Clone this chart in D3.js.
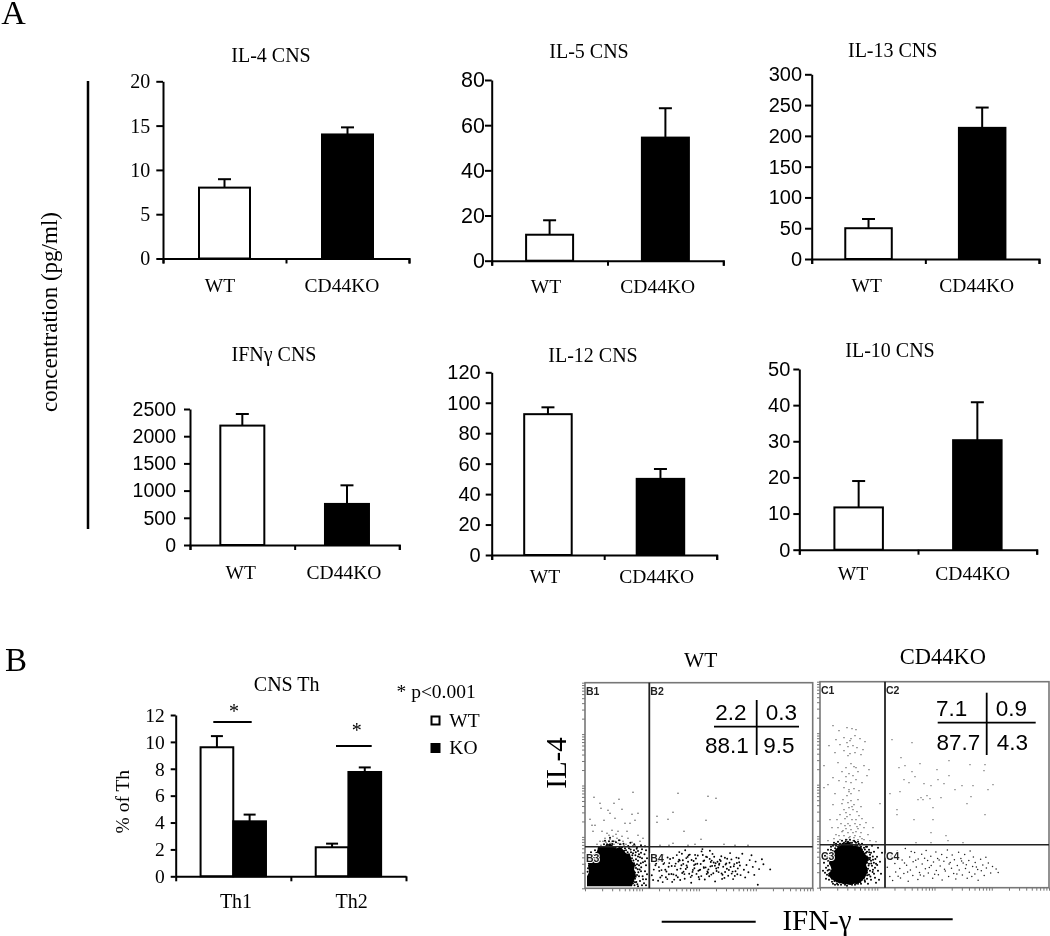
<!DOCTYPE html>
<html><head><meta charset="utf-8">
<script src="https://cdnjs.cloudflare.com/ajax/libs/d3/7.8.5/d3.min.js"></script>
<style>html,body{margin:0;padding:0;background:#fff}svg{display:block;filter:blur(.4px)}text{fill:#000}</style>
</head><body><svg id="c" width="1050" height="936"></svg>
<script>
// ---------- data ----------
const categories = ["WT","CD44KO"];
const panelTitles = ["IL-4 CNS","IL-5 CNS","IL-13 CNS","IFNγ CNS","IL-12 CNS","IL-10 CNS"];
const wtValues = [8,11.5,50,2195,92.5,11.7];
const koValues = [14,54.5,213,755,50,30.3];
const wtErrorTops = [8.95,17.9,65,2408,97,19];
const koErrorTops = [14.8,67.5,246,1097,56.5,40.8];
const panelTicks = [[0,5,10,15,20],[0,20,40,60,80],[0,50,100,150,200,250,300],[0,500,1000,1500,2000,2500],[0,20,40,60,80,100,120],[0,10,20,30,40,50]];

const thCategories = ["Th1","Th2"];
const thWt = [9.6,2.16];
const thKo = [4.09,7.76];
const thWtErr = [10.43,2.43];
const thKoErr = [4.59,8.1];
const thTicks = [0,2,4,6,8,10,12];

const wtTable = ["2.2","0.3","88.1","9.5"];
const koTable = ["7.1","0.9","87.7","4.3"];

// flow cytometry events: [IFN-γ channel, IL-4 channel]
const wtCore = [[2,2],[12,2],[24,2],[36,2],[47,2],[49,8],[51,13],[49,18],[50,24],[47,27],[45,34],[41,35],[36,41],[31,40],[25,45],[19,42],[13,42],[12,35],[8,34],[5,28],[3,23],[4,16],[2,12]];
const wtUpperLeft = [[9,91],[15,85],[16,80],[29,85],[34,89],[48,96],[23,78],[25,75],[37,79],[47,74],[53,75],[5,69],[19,68],[10,63],[7,63],[30,70],[40,65],[45,65],[50,68],[17,57],[8,57],[27,58],[33,57],[42,57],[53,53],[55,47],[15,47],[20,50],[32,50],[37,52],[25,49],[30,47],[43,50],[28,52],[22,55],[35,48],[12,44],[47,46],[38,47],[18,47],[27,47],[41,44],[50,43],[58,50],[24,53],[31,54],[26,45],[33,45],[21,46],[36,44],[29,44],[23,43],[39,43],[16,43]];
const wtUpperRight = [[93,95],[123,92],[131,90],[88,76],[72,72],[72,66],[83,69],[121,68],[99,57],[116,49],[75,43],[88,45],[103,43],[110,44],[150,43],[163,43],[139,44],[84,43]];
const wtHalo = [[48,5],[50,9.5],[52.4,4],[55,7.2],[57.6,12],[49,14],[53.3,16],[59,5],[61,9],[47.6,18],[51,20.4],[56.2,21],[60,17],[62,14],[49,25],[53,27.6],[58,26],[61,23],[47,30],[50.4,33],[55,31],[59.5,34],[62,30],[46,36],[49,38],[53,37.4],[57,39],[61,38],[44,40],[48,42],[52,41],[56,43],[60,42],[40,40],[35,44],[31,46],[22,44],[15,41],[10,38],[6,36],[3,34],[4,30],[50.7,11.6],[54,12],[58,9],[48,22],[52,24],[56,17],[51,29],[54,34],[48,35],[57,30],[60,27],[50,6],[53,2],[57,3],[61,3],[47,8],[49,17],[46,27],[44,34],[41,38],[37,41],[28,47],[24,47],[19,44],[46.5,12.5],[47.2,15.5],[48.6,7],[49.5,3],[51.3,6.3],[46.8,20],[45.7,24.5],[44.3,29],[42.6,36],[39.1,37.5],[35.8,36.8],[34.4,41],[30.6,41],[27.3,44.2],[22.5,41.5],[18,41],[13,37],[11.4,35.6],[8.5,30.5],[6.2,28],[3.8,25],[3,20],[2.6,16.5],[50,15.7],[52,13.2],[54.6,18.8],[50.2,22.8],[52.7,19],[48.4,27.8],[47.3,33],[50.8,36],[45.6,38.8],[43.2,42.4],[38.5,44.6],[55.8,25],[54,23],[53,31.7],[56,35.5],[51.7,39.6],[49.2,44],[45.4,45.6],[34,48],[20,47.5],[25,50.5]];
const wtLowerRight = [[70.4,23],[66.8,13],[73.1,7.5],[69.2,31],[76.5,18.2],[72.7,27.4],[80.9,11],[78.2,33.5],[83.6,21.5],[75.3,10.8],[87.2,6.4],[85.1,29.3],[81.4,16.8],[90.7,24.7],[88.4,13.9],[94.3,36.2],[92.1,18.6],[97.8,28.1],[95.2,8.3],[101.6,22.9],[99.4,14.2],[104.8,33.7],[103.1,26.5],[107.5,16.4],[106.2,5.6],[110.9,29.8],[109.4,20.1],[113.7,11.3],[112.3,24.6],[116.6,36.9],[115.2,18.7],[119.8,8.8],[118.3,27.2],[122.9,15.5],[121.1,31.6],[125.4,21.9],[124.2,12.1],[128.7,25.8],[127.5,34.4],[131.6,17.3],[130.1,6.9],[134.8,28.6],[133.2,20.7],[137.5,13.6],[136.3,32.1],[140.6,23.8],[139.4,10.4],[143.9,18.3],[142.2,29.5],[146.7,14.7],[145.1,35.2],[149.3,24.2],[148.1,9.2],[152.8,19.9],[151.4,30.7],[155.6,13.2],[154.2,26.1],[158.9,18.6],[157.3,34.6],[161.5,23.3],[160.2,10.9],[164.7,28.2],[163.4,16.1],[167.8,21.4],[166.5,33.1],[170.6,26.7],[169.3,13.4],[174.1,19.2],[172.8,3.6],[176.9,29.1],[178.4,24.1],[185.2,18.9],[93.4,26.8],[94.7,27.9],[97.2,15.3],[98.5,16.6],[101.3,30.2],[102.6,31.4],[105.7,11.2],[106.9,12.7],[109.1,23.2],[110.4,24.1],[113.4,17.6],[114.6,18.2],[117.8,33.3],[118.9,20.4],[121.7,14.3],[122.4,16.8],[125.8,26.3],[126.7,27.7],[129.2,31.5],[129.9,22.6],[133.6,16.2],[134.3,24.7],[137.1,9.4],[138.2,21.5],[141.3,24.9],[141.9,19.6],[145.6,21.3],[146.4,28.9],[149.8,12.4],[150.5,17.1],[153.7,30.1],[154.9,22.8],[91.2,12.8],[92.8,11.1],[95.6,19.7],[96.4,23.1],[99.7,9.6],[100.8,19.3],[103.6,33.1],[104.2,14.6],[107.9,18.4],[108.6,27.3],[111.5,14.4],[112.8,32.8],[115.7,24.3],[116.3,12.2],[119.2,27.8],[120.6,20.9],[123.4,18.9],[124.7,29.4],[127.1,22.4],[128.3,15.1],[131.2,19.8],[132.5,26.6],[135.7,27.3],[136.6,14.9],[139.9,30.6],[140.1,16.3],[143.2,12.6],[144.5,25.5],[147.6,16.7],[148.8,22.1],[151.9,25.3],[152.3,14.1],[80.3,18.6],[79.1,25.4],[84.2,25.2],[82.6,30.8],[88.1,30.4],[86.7,22.3],[78.4,24.2],[74.3,17.4],[71.2,24.8],[68.1,8.3],[82.3,9.2],[76.9,12.7],[86.4,14.3],[89.9,22.2],[94.1,28.7],[98.3,24.4],[102.2,21.1],[106.6,28.3],[110.1,33.4],[114.3,9.1],[118.7,21.2],[122.1,31.2],[126.3,13.7],[130.6,25.1],[134.1,23.6],[77.7,6.2],[83.9,14.1],[73.9,21.2],[68.8,18.7],[91.8,33.2],[89.2,8.7],[96.9,34.5],[100.2,38.1],[117.4,39.2],[124.9,37.6]];

const koCore = [[11,9],[18,5],[29,3],[40,5],[45,10],[48,17],[46,23],[49,29],[44,35],[41,41],[34,42],[28,46],[21,43],[16,39],[11,33],[9,25],[12,18],[8,14]];
const koUpperLeft = [[13,162],[19,157],[27,160],[32,159],[36,158],[16,148],[24,150],[31,149],[35,152],[40,149],[45,146],[9,142],[20,143],[28,141],[33,142],[37,140],[43,138],[15,135],[24,137],[30,134],[35,135],[41,133],[4,122],[18,125],[26,120],[31,124],[36,120],[44,122],[49,118],[22,116],[29,114],[33,112],[38,116],[47,112],[13,110],[19,107],[26,106],[31,105],[36,108],[42,105],[4,100],[8,103],[24,100],[29,98],[34,99],[39,97],[15,94],[27,92],[31,94],[38,88],[22,84],[28,85],[31,87],[13,83],[34,83],[41,81],[60,84],[29,80],[24,78],[33,78],[37,76],[26,75],[30,73],[20,73],[39,72],[10,68],[17,68],[25,69],[32,68],[36,68],[42,69],[21,64],[28,64],[30,62],[35,64],[40,63],[46,65],[12,60],[18,60],[26,59],[31,58],[38,59],[44,60],[53,60],[22,56],[28,55],[33,55],[36,56],[41,55],[16,53],[24,52],[30,51],[35,52],[40,51],[48,53],[14,49],[20,48],[27,48],[33,47],[38,48],[44,48],[50,47],[8,47],[56,46],[25,62],[27,71],[23,88],[32,81],[29,96],[26,111],[34,121],[27,145],[30,147],[28,132],[23,57],[37,61],[29,50],[34,50],[19,52],[42,49]];
const koUpperRight = [[72,148],[92,145],[81,130],[100,124],[129,127],[85,122],[79,120],[117,118],[150,123],[165,123],[164,117],[92,116],[95,111],[118,108],[129,112],[84,108],[89,105],[104,104],[111,102],[124,104],[142,102],[153,102],[173,103],[135,98],[168,98],[151,91],[80,96],[70,94],[101,90],[107,92],[98,88],[103,88],[110,89],[121,90],[147,84],[77,78],[113,80],[165,73],[113,68],[77,73],[94,68],[111,55],[126,52],[96,45],[111,45],[128,47],[143,45]];
const koHalo = [[6,20],[7,13],[8,27],[9,8],[10,33],[9,18],[11,38],[10,24],[12,6],[13,42],[12,14],[14,45],[13,4],[15,3],[16,42],[18,46],[20,44],[22,47],[24,45],[26,48],[28,46],[30,48],[32,45],[34,47],[36,45],[38,46],[40,43],[42,44],[44,40],[46,41],[47,36],[49,38],[48,30],[50,33],[51,27],[47,25],[52,22],[48,19],[53,18],[49,13],[54,14],[47,9],[51,8],[55,10],[45,6],[48,4],[41,4],[35,3],[27,2],[21,3],[17,4],[56,24],[57,31],[58,17],[54,36],[59,8],[56,5],[60,26],[61,14],[52,42],[58,40],[62,35],[4,25],[3,17],[5,32],[8,38],[45,15],[46,28],[43,36],[37,42],[23,44],[15,36],[11,28],[12,20],[15,8],[42,8],[44,10],[47,15],[49,24],[50,30],[46,35],[41,41],[30,45],[18,41],[13,34],[10,28],[8,22],[9,12],[12,9],[18,3],[25,3],[32,3],[38,4],[50,17],[53,28],[55,20],[51,35],[47,41],[35,46],[28,44],[16,44],[11,41],[7,31],[5,15],[6,9],[13.4,28.7],[11.2,17.4],[14.3,13.2],[16.5,6.3],[10.6,11.3],[7.7,17.2],[9.4,29.6],[12.8,36.7],[15.1,39.4],[19.2,42.7],[22.4,43.6],[25.7,46.2],[31.4,43.2],[35.1,42.8],[38.7,43.9],[41.9,38.2],[44.6,34.1],[46.9,31.2],[47.8,27.6],[48.6,22.1],[46.2,19.6],[47.1,12.4],[44.7,7.4],[40.3,5.7],[36.1,4.3],[30.2,3.6],[23.4,4.4],[19.6,5.2],[14.4,6.6],[50.4,11.3],[52.6,15.8],[51.2,24.3],[49.7,28.4],[52.8,31.1],[49.1,35.4],[44.9,38.2],[55.4,28.7],[53.9,24.9],[57.2,22.6]];
const koLowerRight = [[67.3,20.4],[69.8,11.2],[71.4,31.6],[72.6,7.3],[74.9,24.2],[75.7,15.8],[77.2,36.4],[79.8,19.3],[80.5,9.6],[82.1,27.7],[83.9,14.2],[85.3,39.1],[86.6,22.5],[88.2,6.4],[89.7,30.8],[90.4,17.6],[92.8,12.3],[93.1,25.9],[94.6,35.2],[96.3,20.7],[97.9,8.2],[98.2,28.6],[99.5,15.1],[101.7,33.4],[102.2,23.6],[103.8,11.7],[105.4,18.9],[106.1,37.3],[107.6,27.2],[108.3,14.8],[110.8,31.5],[111.2,22.1],[112.7,9.4],[113.5,25.7],[115.9,35.6],[116.3,17.2],[117.6,29.3],[118.4,12.9],[120.2,21.8],[121.7,33.1],[122.1,7.7],[123.9,26.4],[125.3,16.6],[126.8,30.2],[127.4,37.8],[128.6,11.3],[129.1,23.7],[131.5,19.4],[132.2,32.6],[133.7,14.3],[134.4,27.9],[135.8,8.6],[137.3,22.2],[138.6,35.4],[139.2,17.7],[140.9,29.1],[142.4,12.8],[143.1,24.6],[144.7,33.3],[145.5,19.2],[147.2,9.5],[148.8,27.3],[149.3,15.4],[150.1,36.7],[152.6,21.3],[153.4,30.8],[154.9,13.6],[155.2,25.2],[157.7,18.3],[158.1,7.4],[160.6,28.5],[161.3,16.9],[162.8,22.7],[164.2,12.1],[165.9,30.4],[166.4,19.6],[168.3,24.8],[170.7,14.6],[172.5,21.2],[176.1,18.8],[178.2,15.3],[104.6,29.5],[109.3,20.2],[114.7,13.5],[119.1,27.6],[124.5,18.4],[130.2,25.3],[136.9,13.7],[141.6,26.8],[146.3,22.9],[151.8,11.2],[156.4,20.6],[95.7,27.4],[100.3,12.6],[91.2,36.1],[87.6,15.8],[84.5,24.7],[78.1,11.4]];

// ---------- layout ----------
const panelBoxes = [
 {x0:163,x1:409,y0:258.5,y1:81.3,barW:51,tick:"'Liberation Serif'",fs:20,titleX:271,titleY:62,labY:292,labX:[220,342],tl:6.7,pad:6},
 {x0:491.7,x1:723.3,y0:260.7,y1:80,barW:47,tick:"'Liberation Sans'",fs:21.5,titleX:589,titleY:58,labY:293,labX:[546,657.7],tl:6.7,pad:0},
 {x0:811.7,x1:1039,y0:259,y1:74.3,barW:46.5,tick:"'Liberation Sans'",fs:20,titleX:892.7,titleY:56.7,labY:292,labX:[866.7,976.7],tl:6.7,pad:3},
 {x0:190,x1:399.3,y0:545,y1:409,barW:44,tick:"'Liberation Sans'",fs:19.5,titleX:274,titleY:361,labY:579,labX:[240.7,344],tl:6,pad:8},
 {x0:491.7,x1:716.7,y0:555,y1:372.3,barW:47.5,tick:"'Liberation Sans'",fs:20,titleX:593,titleY:362,labY:583,labX:[545,656.7],tl:6,pad:5},
 {x0:799.3,x1:1036.7,y0:549.7,y1:369,barW:48.5,tick:"'Liberation Sans'",fs:20,titleX:890,titleY:357,labY:580,labX:[853,972.7],tl:6,pad:3}
];
const serif = "'Liberation Serif','Times New Roman',serif";
const sans = "'Liberation Sans',Arial,sans-serif";
const svg = d3.select("#c");

function txt(x,y,s,size,opt={}){
  return svg.append("text").attr("x",x).attr("y",y).text(s)
    .attr("font-family",opt.font||serif).attr("font-size",size)
    .attr("text-anchor",opt.anchor||"middle");
}
function line(x1,y1,x2,y2,w=2,c="#000",g=svg){
  return g.append("line").attr("x1",x1).attr("y1",y1).attr("x2",x2).attr("y2",y2)
    .attr("stroke",c).attr("stroke-width",w);
}
function styleAxis(g,font,fs){
  g.selectAll("path").attr("stroke","#000").attr("stroke-width",2);
  g.selectAll("line").attr("stroke","#000").attr("stroke-width",2);
  g.selectAll("text").attr("font-family",font).attr("font-size",fs).attr("fill","#000");
}
function drawErr(x,top,base,cap){
  line(x,base,x,top);
  line(x-cap/2,top,x+cap/2,top);
}

// ---------- panel A ----------
txt(13.5,24,"A",34);
line(88,81,88,529,2.5);
svg.append("text").attr("transform","translate(57,312) rotate(-90)").text("concentration (pg/ml)")
  .attr("font-family",serif).attr("font-size",23).attr("text-anchor","middle");

panelBoxes.forEach((b,i)=>{
  const y = d3.scaleLinear().domain(d3.extent(panelTicks[i])).range([b.y0,b.y1]);
  const x = d3.scaleBand().domain(categories).range([b.x0,b.x1]).paddingInner(1-b.barW/((b.x1-b.x0)/2)).paddingOuter((1-b.barW/((b.x1-b.x0)/2))/2);
  const ax = d3.scalePoint().domain([0,1,2]).range([b.x0,b.x1]);
  const vals=[wtValues[i],koValues[i]], errs=[wtErrorTops[i],koErrorTops[i]];
  categories.forEach((c,k)=>{
    const cx=x(c)+x.bandwidth()/2;
    drawErr(cx,y(errs[k]),y(vals[k]),13);
    svg.append("rect").attr("x",x(c)).attr("y",y(vals[k])).attr("width",x.bandwidth()).attr("height",y(0)-y(vals[k]))
      .attr("fill",k?"#000":"#fff").attr("stroke","#000").attr("stroke-width",2);
    txt(b.labX[k],b.labY,c,19.5);
  });
  svg.append("g").attr("transform",`translate(0,${b.y0})`)
    .call(d3.axisBottom(ax).tickValues([0,1,2]).tickFormat("").tickSizeOuter(0).tickSize(5))
    .call(s=>styleAxis(s,serif,1));
  svg.append("g").attr("transform",`translate(${b.x0},0)`)
    .call(d3.axisLeft(y).tickValues(panelTicks[i]).tickSize(b.tl).tickSizeOuter(0).tickPadding(b.pad).tickFormat(d3.format("d")))
    .call(s=>styleAxis(s,b.tick,b.fs));
  txt(b.titleX,b.titleY,panelTitles[i],20);
});

// ---------- panel B bars ----------
txt(16,671,"B",33);
(function(){
  const x0=175.7,x1=406,y0=876.3,y1=715;
  const y=d3.scaleLinear().domain([0,12]).range([y0,y1]);
  const x=d3.scaleBand().domain(thCategories).range([x0,x1]);
  const ax=d3.scalePoint().domain([0,1,2]).range([x0,x1]);
  const barW=32.7;
  thCategories.forEach((c,k)=>{
    const cx=x(c)+x.bandwidth()/2;
    [[thWt,thWtErr,"#fff",-barW],[thKo,thKoErr,"#000",0]].forEach(([v,e,col,off])=>{
      drawErr(cx+off+barW/2,y(e[k]),y(v[k]),12);
      svg.append("rect").attr("x",cx+off).attr("y",y(v[k])).attr("width",barW).attr("height",y(0)-y(v[k]))
        .attr("fill",col).attr("stroke","#000").attr("stroke-width",2);
    });
  });
  svg.append("g").attr("transform",`translate(0,${y0})`)
    .call(d3.axisBottom(ax).tickValues([0,1,2]).tickFormat("").tickSize(5).tickSizeOuter(0))
    .call(s=>styleAxis(s,serif,1));
  svg.append("g").attr("transform",`translate(${x0},0)`)
    .call(d3.axisLeft(y).tickValues(thTicks).tickSize(5).tickSizeOuter(0).tickPadding(6).tickFormat(d3.format("d")))
    .call(s=>styleAxis(s,serif,19.5));
  txt(236,908,"Th1",20); txt(351.7,908,"Th2",20);
  txt(286.7,690.5,"CNS Th",20);
  svg.append("text").attr("transform","translate(129,801.7) rotate(-90)").text("% of Th")
    .attr("font-family",serif).attr("font-size",19.5).attr("text-anchor","middle");
  line(213.3,722,251.7,722); line(336,746,371.7,746);
  txt(234,718,"*",20); txt(356.7,737,"*",20);
  txt(396.5,698,"* p<0.001",19.5,{anchor:"start"});
  svg.append("rect").attr("x",431.5).attr("y",716.5).attr("width",8).attr("height",8).attr("fill","#fff").attr("stroke","#000").attr("stroke-width",2);
  svg.append("rect").attr("x",430.5).attr("y",743).attr("width",10).attr("height",10).attr("fill","#000");
  txt(449.3,727,"WT",19.5,{anchor:"start"}); txt(449.3,754,"KO",19.5,{anchor:"start"});
})();

// ---------- flow plots ----------
function flow(o){
  const w=o.x1-o.x0,h=o.y1-o.y0;
  const x=d3.scaleLinear().domain([0,w]).range([o.x0,o.x1]);
  const y=d3.scaleLinear().domain([0,h]).range([o.y1,o.y0]);
  const g=svg.append("g");
  g.append("rect").attr("x",o.x0).attr("y",o.y0).attr("width",w).attr("height",h)
    .attr("fill","#fff").attr("stroke","#777").attr("stroke-width",1.6);
  const ln=d3.line().x(d=>x(d[0])).y(d=>y(d[1])).curve(d3.curveLinearClosed);
  const logY=d3.scaleLog().domain([1,1e4]).range([o.y1,o.y0]);
  const logX=d3.scaleLog().domain([1,1e4]).range([o.x0,o.x1]);
  const minor=[];[1,10,100,1000].forEach(d=>{for(let m=1;m<10;m++)minor.push(d*m)});minor.push(1e4);
  g.append("g").attr("transform",`translate(${o.x0},0)`).call(d3.axisLeft(logY).tickValues(minor).tickSize(3).tickFormat("").tickSizeOuter(0))
    .call(s=>{s.selectAll("line").attr("stroke","#777");s.select("path").remove();});
  g.append("g").attr("transform",`translate(0,${o.y1})`).call(d3.axisBottom(logX).tickValues(minor).tickSize(3).tickFormat("").tickSizeOuter(0))
    .call(s=>{s.selectAll("line").attr("stroke","#777");s.select("path").remove();});
  g.append("path").attr("d",ln(o.core)).attr("fill","#000");
  o.groups.forEach(([pts,r,col])=>{
    g.append("g").selectAll("circle").data(pts).join("circle")
      .attr("cx",d=>x(d[0])).attr("cy",d=>y(d[1])).attr("r",r).attr("fill",col);
  });
  line(x(o.gx),o.y0,x(o.gx),o.y1,1.8,"#222",g);
  line(o.x0,y(o.gy),o.x1,y(o.gy),1.6,"#222",g);
  const pre=o.pre;
  [[o.x0+1,o.y0+12,1,false],[x(o.gx)+1,o.y0+12,2,false],[o.x0+1,y(o.gy)+15,3,true],[x(o.gx)+1,y(o.gy)+15,4,true]].forEach(([a,b,n,halo])=>{
    const t=g.append("text").attr("x",a).attr("y",b).text(pre+n).attr("font-family",sans).attr("font-weight","bold").attr("font-size",10.5).style("fill","#222");
    if(halo)t.attr("stroke","#fff").attr("stroke-width",2).attr("paint-order","stroke");
  });
}
const dark="#000", mid="#444";
flow({x0:585,x1:812.7,y0:682.7,y1:888.3,gx:64.3,gy:41.6,pre:"B",core:wtCore,
  groups:[[wtUpperLeft,.7,mid],[wtUpperRight,.7,mid],[wtHalo,1,dark],[wtLowerRight,.95,dark]]});
flow({x0:820,x1:1049,y0:681.7,y1:887.7,gx:65,gy:43,pre:"C",core:koCore,
  groups:[[koUpperLeft,.65,mid],[koUpperRight,.6,mid],[koHalo,1,dark],[koLowerRight,.75,"#222"]]});

function table(vals,pos,vLine,hLine){
  vals.forEach((v,i)=>txt(pos[i][0],pos[i][1],v,22.5,{font:sans}));
  line(vLine[0],vLine[1],vLine[0],vLine[2],1.8);
  line(hLine[1],hLine[0],hLine[2],hLine[0],1.8);
}
table(wtTable,[[731,720],[781.5,720],[727,752.5],[779,752.5]],[756.7,700,755],[726.7,714,799]);
table(koTable,[[951.7,716],[1011.5,716],[958.5,750],[1012.5,750]],[986.7,692.7,755],[722.7,937.7,1035.7]);

txt(700.7,666.7,"WT",21.5); txt(943,664,"CD44KO",22.5);
svg.append("text").attr("transform","translate(565.7,763) rotate(-90)").text("IL-4")
  .attr("font-family",serif).attr("font-size",29).attr("text-anchor","middle");
txt(817,930,"IFN-γ",29);
line(661.7,921.7,755.7,921.7); line(859,919.3,952.7,919.3);
</script></body></html>
